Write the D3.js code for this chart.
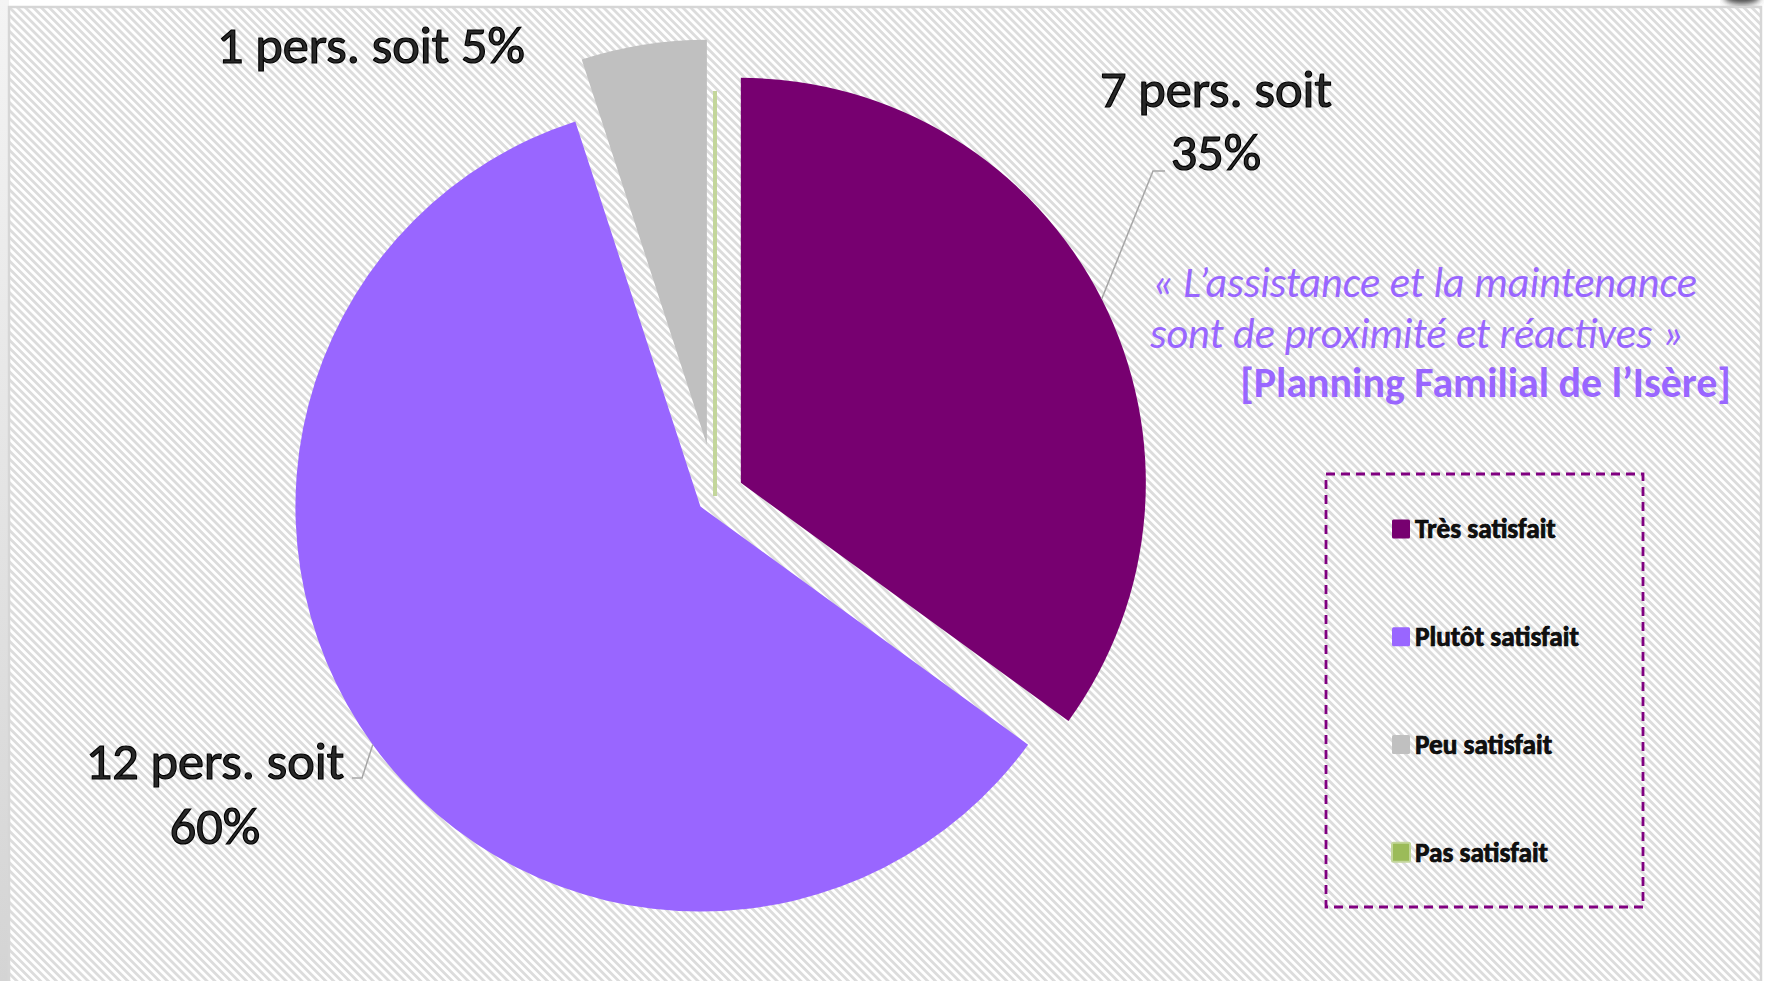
<!DOCTYPE html>
<html lang="fr">
<head>
<meta charset="utf-8">
<script src="https://cdn.jsdelivr.net/npm/d3@7"></script>
<style>
  html, body { margin: 0; padding: 0; background: #fff; overflow: hidden; }
  svg { display: block; }
</style>
</head>
<body>
<svg id="graphique" width="1769" height="981"></svg>
<script>
// === DONNÉES ===
const categories = ["Très satisfait", "Plutôt satisfait", "Peu satisfait", "Pas satisfait"];
const personnes = [7, 12, 1, 0];
const pourcentages = [35, 60, 5, 0];
const citation = ["« L’assistance et la maintenance", "sont de proximité et réactives »"];
const source = "[Planning Familial de l’Isère]";

// === STYLE ===
const couleurs = ["#770070", "#9966FF", "#C0C0C0", "#9BBB59"];
const police = "Calibri, Carlito, Lato, 'Noto Sans', sans-serif";
const violetTexte = "#9966FF";

const svg = d3.select("#graphique");
const defs = svg.append("defs");

// motif hachuré du fond (diagonales fines)
const motif = defs.append("pattern")
  .attr("id", "hachures")
  .attr("patternUnits", "userSpaceOnUse")
  .attr("width", 5.6)
  .attr("height", 5.6)
  .attr("patternTransform", "rotate(-45)");
motif.append("rect").attr("width", 5.6).attr("height", 5.6).attr("fill", "#ffffff");
motif.append("rect").attr("width", 2.8).attr("height", 5.6).attr("fill", "#dcdcdc");

const ombreGauche = defs.append("linearGradient").attr("id", "ombreGauche")
  .attr("x1", 0).attr("y1", 0).attr("x2", 0).attr("y2", 1);
ombreGauche.append("stop").attr("offset", "0%").attr("stop-color", "#f4f4f4");
ombreGauche.append("stop").attr("offset", "100%").attr("stop-color", "#d4d4d4");

defs.append("filter").attr("id", "flou")
  .append("feGaussianBlur").attr("stdDeviation", 3);

// bord gauche + cadre de la zone du graphique
svg.append("rect").attr("x", 0).attr("y", 0).attr("width", 9).attr("height", 981)
  .attr("fill", "url(#ombreGauche)");
svg.append("rect")
  .attr("x", 9).attr("y", 7).attr("width", 1752).attr("height", 1000)
  .attr("fill", "url(#hachures)")
  .attr("stroke", "#d6d6d6").attr("stroke-width", 2.5);
svg.append("ellipse").attr("cx", 1742).attr("cy", -3).attr("rx", 18).attr("ry", 7)
  .attr("fill", "#444").attr("filter", "url(#flou)");

// ajuste la taille de police pour une largeur donnée
function ajusterLargeur(sel, largeur) {
  const base = 40;
  sel.style("font-size", base + "px");
  const l = sel.node().getComputedTextLength();
  const taille = base * largeur / l;
  sel.style("font-size", taille + "px");
  return taille;
}

// === CAMEMBERT ===
const cx = 715, cy = 496, rayon = 405;
const eclatement = [29, 18, 52, 0];

const pie = d3.pie().value(d => d).sort(null);
const parts = pie(personnes);
const arc = d3.arc().innerRadius(0).outerRadius(rayon);

const milieu = d => (d.startAngle + d.endAngle) / 2;
const decalage = (d, i) => [Math.sin(milieu(d)) * eclatement[i], -Math.cos(milieu(d)) * eclatement[i]];

const gPie = svg.append("g").attr("transform", `translate(${cx},${cy})`);
gPie.selectAll("path")
  .data(parts)
  .join("path")
  .attr("transform", (d, i) => `translate(${decalage(d, i)})`)
  .attr("d", arc)
  .attr("fill", (d, i) => couleurs[i])
  .attr("stroke", d => d.value === 0 ? "#C3D69B" : "none")
  .attr("stroke-width", 4);

// === ÉTIQUETTES ===
// position du texte (centre, lignes de base) et coude du trait de rappel
const dispoEtiquettes = [
  { x: 1216, bases: [107, 170], coude: [[1153, 171], [1165, 171]] },
  { x: 215, bases: [779, 844], coude: [[362, 778], [352, 778]] },
  { x: 371, bases: [63], coude: null }
];

const texteEtiquette = i => {
  const t = `${personnes[i]} pers. soit`;
  const p = `${pourcentages[i]}%`;
  return dispoEtiquettes[i].bases.length === 2 ? [t, p] : [`${t} ${p}`];
};

// taille commune, réglée sur l'étiquette à une ligne
const mesure = svg.append("text").attr("font-family", police).text(texteEtiquette(2)[0]);
const tailleEtiq = ajusterLargeur(mesure, 308);
mesure.remove();

dispoEtiquettes.forEach((e, i) => {
  const d = parts[i];
  if (e.coude) {
    const [dx, dy] = decalage(d, i);
    const a = milieu(d);
    const depart = [cx + dx + Math.sin(a) * rayon, cy + dy - Math.cos(a) * rayon];
    svg.append("path")
      .attr("d", d3.line()([depart, ...e.coude]))
      .attr("fill", "none")
      .attr("stroke", "#a6a6a6")
      .attr("stroke-width", 1.5);
  }
  texteEtiquette(i).forEach((ligne, k) => {
    svg.append("text")
      .attr("x", e.x)
      .attr("y", e.bases[k])
      .attr("text-anchor", "middle")
      .attr("font-family", police)
      .style("font-size", tailleEtiq + "px")
      .attr("fill", "#282828")
      .attr("stroke", "#000")
      .attr("stroke-width", 1.2)
      .text(ligne);
  });
});

// === CITATION ===
const cit1 = svg.append("text")
  .attr("x", 1152).attr("y", 297)
  .attr("font-family", police).attr("font-style", "italic")
  .attr("fill", violetTexte)
  .text(citation[0]);
const tailleCit = ajusterLargeur(cit1, 545);
svg.append("text")
  .attr("x", 1150).attr("y", 348)
  .attr("font-family", police).attr("font-style", "italic")
  .style("font-size", tailleCit + "px")
  .attr("fill", violetTexte)
  .text(citation[1]);
const src = svg.append("text")
  .attr("x", 1731).attr("y", 397)
  .attr("text-anchor", "end")
  .attr("font-family", police).attr("font-weight", "bold")
  .attr("fill", violetTexte)
  .text(source);
ajusterLargeur(src, 491);

// === LÉGENDE ===
const legX = 1326, legY = 474, legL = 317, legH = 433;
svg.append("rect")
  .attr("x", legX).attr("y", legY).attr("width", legL).attr("height", legH)
  .attr("fill", "none")
  .attr("stroke", "#800080")
  .attr("stroke-width", 2.8)
  .attr("stroke-dasharray", "9,6");

const yLeg = d3.scaleBand().domain(categories).range([legY + 1, legY + legH - 1]);

const mesureLeg = svg.append("text").attr("font-family", police).attr("font-weight", "bold")
  .text(categories[1]);
const tailleLeg = ajusterLargeur(mesureLeg, 164);
mesureLeg.remove();

const items = svg.append("g").selectAll("g")
  .data(categories)
  .join("g")
  .attr("transform", d => `translate(${legX + 66},${yLeg(d) + yLeg.bandwidth() / 2})`);

items.append("rect")
  .attr("x", 0).attr("y", -9.5)
  .attr("width", 18).attr("height", 19)
  .attr("rx", 1.5)
  .attr("fill", (d, i) => couleurs[i])
  .attr("stroke", (d, i) => i === 3 ? "#C3D69B" : "none")
  .attr("stroke-width", 2);

items.append("text")
  .attr("x", 23)
  .attr("y", 0)
  .attr("dy", "0.35em")
  .attr("font-family", police)
  .attr("font-weight", "bold")
  .style("font-size", tailleLeg + "px")
  .attr("fill", "#111")
  .attr("stroke", "#000")
  .attr("stroke-width", 0.7)
  .text(d => d);
</script>
</body>
</html>
